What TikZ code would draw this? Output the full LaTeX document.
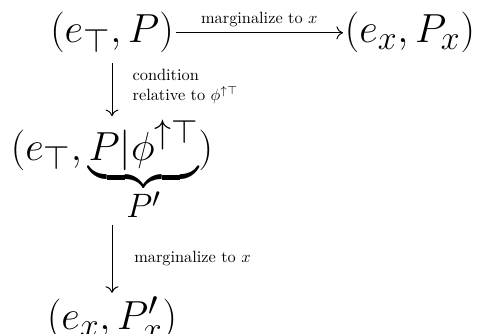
\documentclass[tikz,border=0pt]{standalone}
\usepackage{amsmath}
\usepackage{tikz}
\usetikzlibrary{arrows.meta,positioning}

\begin{document}
\begin{tikzpicture}[
  obj/.style={font=\Huge,inner xsep=1pt,inner ysep=2pt},
  lbl/.style={font=\normalsize,align=left},
  arr/.style={-{To[length=4pt,width=8pt]},semithick}
]
\useasboundingbox (-68.6pt,26.3pt) rectangle (225.4pt,-178.2pt);
\node[obj,anchor=base] (top) at (0,0) {$(e_\top,P)$};
\node[obj,base right=102.5pt of top] (right) {$(e_x,P_x)$};
\node[obj,anchor=base] (mid) at ([yshift=-71.7pt]top.base) {$(e_\top,\underbrace{P|\phi^{\uparrow\top}}_{P'})$};
\node[obj,anchor=base] (bot) at ([yshift=-104.1pt]mid.base) {$(e_x,P'_x)$};
\draw[arr] (top)--node[lbl,above]{marginalize to $x$}(right);
\draw[arr,shorten <=4pt] (top)--node[lbl,right=9pt]{condition\\relative to $\phi^{\uparrow\top}$}(mid);
\draw[arr] (mid)--node[lbl,right=10pt]{marginalize to $x$}(bot);
\end{tikzpicture}
\end{document}
